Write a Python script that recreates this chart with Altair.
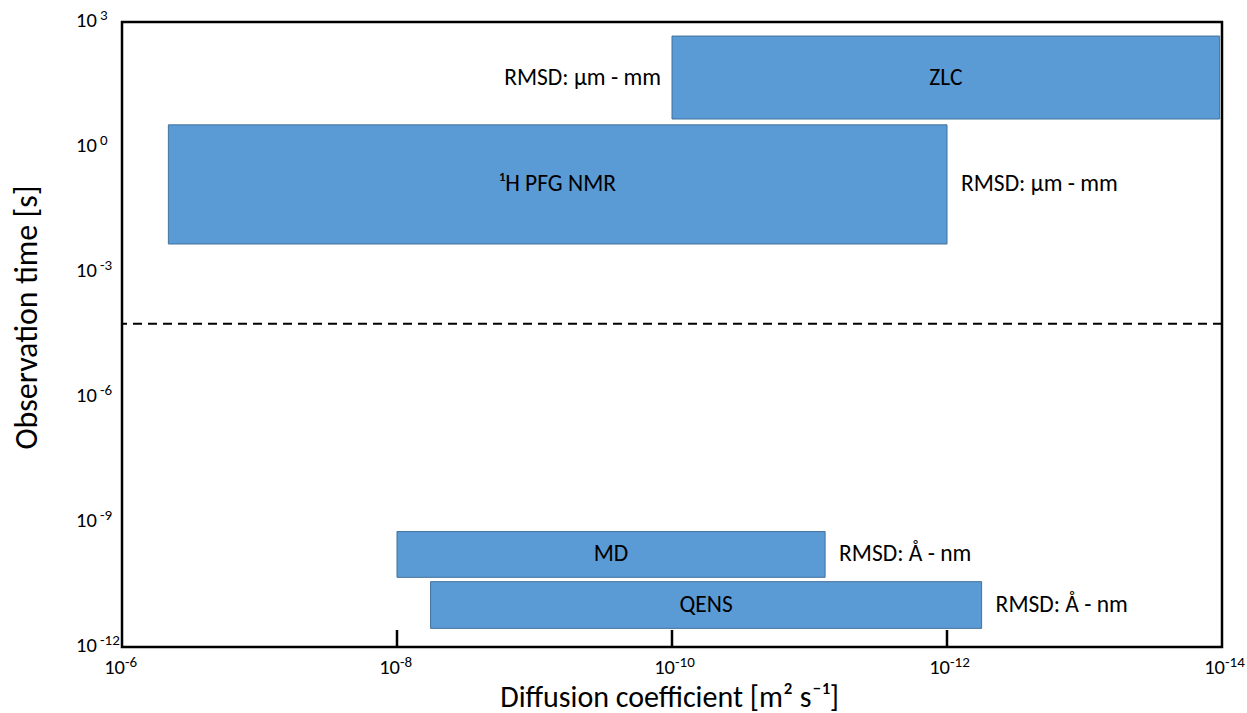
import altair as alt
import pandas as pd

# ---- data ----
methods = ["ZLC", "¹H PFG NMR", "MD", "QENS"]
d_max = [1.0e-10, 4.6e-7, 1.0e-8, 5.7e-9]      # left edge (largest D)
d_min = [1.04e-14, 1.0e-12, 7.7e-12, 5.6e-13]  # right edge (smallest D)
t_max = [4.6e2, 3.4, 5.9e-10, 3.7e-11]         # top edge
t_min = [4.7, 4.7e-3, 4.7e-11, 2.8e-12]        # bottom edge
rmsd = ["RMSD: µm - mm", "RMSD: µm - mm", "RMSD: Å - nm", "RMSD: Å - nm"]
rmsd_side = ["left", "right", "right", "right"]
cutoff_time = [5.7e-5]
x_ticks = [1e-6, 1e-8, 1e-10, 1e-12, 1e-14]
y_ticks = [1e3, 1e0, 1e-3, 1e-6, 1e-9, 1e-12]
x_inner_ticks = [1e-8, 1e-10, 1e-12]

FONT = "Carlito, Lato, sans-serif"
BLUE = "#5B9BD5"
EDGE = "#41719C"
W, H = 1100, 625

df = pd.DataFrame({"method": methods, "d_max": d_max, "d_min": d_min,
                   "t_max": t_max, "t_min": t_min, "rmsd": rmsd, "side": rmsd_side})
cut_df = pd.DataFrame({"t": cutoff_time})
tick_df = pd.DataFrame({"d": x_inner_ticks})
xt_df = pd.DataFrame({"v": x_ticks})
yt_df = pd.DataFrame({"v": y_ticks})

xscale = alt.Scale(type="log", domain=[1e-14, 1e-6], reverse=True)
yscale = alt.Scale(type="log", domain=[1e-12, 1e3])

xaxis = alt.Axis(values=x_ticks, labels=False, grid=False, ticks=False, domain=False,
                 title="Diffusion coefficient [m² s⁻¹]", titleFont=FONT, titleFontSize=30,
                 titleFontWeight="normal", titleColor="black", titleX=547, titleY=59,
                 titleAlign="center", titleBaseline="alphabetic")
yaxis = alt.Axis(values=y_ticks, labels=False, grid=False, ticks=False, domain=False,
                 title="Observation time [s]", titleFont=FONT, titleFontSize=32,
                 titleFontWeight="normal", titleColor="black", titleX=-86, titleY=295,
                 titleAngle=270, titleAlign="center", titleBaseline="alphabetic")

X = lambda f: alt.X(f, scale=xscale, axis=xaxis)
Y = lambda f: alt.Y(f, scale=yscale, axis=yaxis)

base = alt.Chart(df)

bars = base.mark_rect(fill=BLUE, stroke=EDGE, strokeWidth=1).encode(
    x=X("d_max:Q"), x2="d_min:Q", y=Y("t_max:Q"), y2="t_min:Q",
)

centers = base.transform_calculate(
    d_mid="sqrt(datum.d_max*datum.d_min)",
    t_mid="sqrt(datum.t_max*datum.t_min)",
)

LBL = 23.5
method_text = centers.mark_text(font=FONT, fontSize=LBL, color="black").encode(
    x=X("d_mid:Q"), y=Y("t_mid:Q"), text="method:N",
)
rmsd_left = centers.transform_filter("datum.side == 'left'").mark_text(
    font=FONT, fontSize=LBL, color="black", align="right", dx=-11).encode(
    x=X("d_max:Q"), y=Y("t_mid:Q"), text="rmsd:N",
)
rmsd_right = centers.transform_filter("datum.side == 'right'").mark_text(
    font=FONT, fontSize=LBL, color="black", align="left", dx=14).encode(
    x=X("d_min:Q"), y=Y("t_mid:Q"), text="rmsd:N",
)

cutoff = alt.Chart(cut_df).mark_rule(color="black", strokeWidth=2, strokeDash=[9, 6]).encode(
    y=Y("t:Q"),
)

inner_ticks = alt.Chart(tick_df).mark_rule(color="black", strokeWidth=2.5).encode(
    x=X("d:Q"), y=alt.value(H), y2=alt.value(H - 17),
)

# ---- tick labels: "10" with a raised exponent ----
BASE_FS, EXP_FS = 20.5, 15
xt = alt.Chart(xt_df).transform_calculate(
    e="toString(round(log(datum.v)/LN10))", b="'10'")
x_lab_base = xt.mark_text(font=FONT, fontSize=BASE_FS, color="black", align="right",
                          baseline="alphabetic", dx=3).encode(
    x=X("v:Q"), y=alt.value(H + 27), text="b:N")
x_lab_exp = xt.mark_text(font=FONT, fontSize=EXP_FS, color="black", align="left",
                         baseline="alphabetic", dx=3).encode(
    x=X("v:Q"), y=alt.value(H + 20), text="e:N")

yt = alt.Chart(yt_df).transform_calculate(
    e="toString(round(log(datum.v)/LN10))", b="'10'")
y_lab_base = yt.mark_text(font=FONT, fontSize=BASE_FS, color="black", align="left",
                          baseline="alphabetic", dy=5).encode(
    x=alt.value(-46), y=Y("v:Q"), text="b:N")
y_lab_exp = yt.mark_text(font=FONT, fontSize=EXP_FS, color="black", align="left",
                         baseline="alphabetic", dy=-2).encode(
    x=alt.value(-22), y=Y("v:Q"), text="e:N")

chart = alt.layer(bars, cutoff, inner_ticks, method_text, rmsd_left, rmsd_right,
                  x_lab_base, x_lab_exp, y_lab_base, y_lab_exp).properties(
    width=W, height=H,
    autosize=alt.AutoSizeParams(type="none"),
    padding={"left": 122, "top": 22, "right": 25, "bottom": 66},
    background="white",
).configure_view(stroke="black", strokeWidth=2.5)

chart.save("out.html", embed_options={"renderer": "svg", "actions": False})
